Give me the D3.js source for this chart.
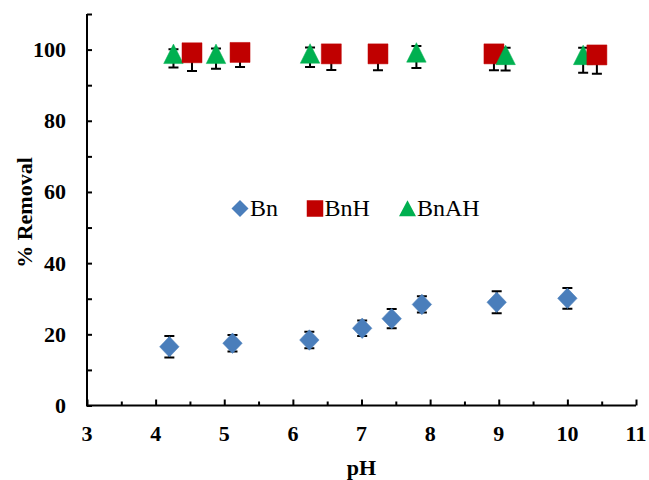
<!DOCTYPE html>
<html>
<head>
<meta charset="utf-8">
<script src="https://cdn.jsdelivr.net/npm/d3@7"></script>
<style>
  html, body { margin: 0; padding: 0; background: #fff; }
  svg { display: block; }
</style>
</head>
<body>
<svg id="chart" width="649" height="480"></svg>
<script>
// ---- data ----
const seriesNames = ["Bn", "BnH", "BnAH"];

const bnPH = [4.2, 5.12, 6.24, 7.01, 7.44, 7.88, 8.97, 10.0];
const bnVal = [16.5, 17.5, 18.4, 21.7, 24.4, 28.4, 29.0, 30.1];
const bnErrPlus = [3.0, 2.3, 2.3, 2.2, 2.7, 2.3, 3.1, 2.9];
const bnErrMinus = [3.0, 2.3, 2.3, 2.2, 2.7, 2.3, 3.1, 2.9];

const bnhPH = [4.53, 5.23, 6.56, 7.24, 8.93, 10.43];
const bnhVal = [99.1, 99.2, 98.8, 98.8, 98.8, 98.5];
const bnhErrPlus = [0.9, 0.8, 1.2, 1.2, 1.2, 1.5];
const bnhErrMinus = [5.1, 4.1, 4.5, 4.6, 4.6, 5.3];

const bnahPH = [4.26, 4.88, 6.25, 7.8, 9.1, 10.23];
const bnahVal = [97.9, 97.9, 98.0, 98.3, 97.6, 97.6];
const bnahErrPlus = [2.2, 2.4, 2.6, 2.7, 2.9, 2.9];
const bnahErrMinus = [2.9, 3.3, 2.9, 3.5, 3.5, 4.1];

const xTicks = [3, 4, 5, 6, 7, 8, 9, 10, 11];
const yTicks = [0, 20, 40, 60, 80, 100];
const xLabel = "pH";
const yLabel = "% Removal";

// ---- layout ----
const svg = d3.select("#chart");
const pLeft = 87, pRight = 636, pTop = 14, pBottom = 405.5;
const x = d3.scaleLinear().domain([3, 11]).range([pLeft, pRight]);
const y = d3.scaleLinear().domain([0, 110]).range([pBottom, pTop]);

const colors = { Bn: "#4A7EBB", BnH: "#C00000", BnAH: "#00B050" };
const font = "'Liberation Serif', 'Times New Roman', serif";

// custom symbols
const diamondSym = (w, h) => ({ draw(ctx) {
  ctx.moveTo(0, -h / 2); ctx.lineTo(w / 2, 0); ctx.lineTo(0, h / 2); ctx.lineTo(-w / 2, 0); ctx.closePath();
}});
const squareSym = (s) => ({ draw(ctx) {
  ctx.moveTo(-s / 2, -s / 2); ctx.lineTo(s / 2, -s / 2); ctx.lineTo(s / 2, s / 2); ctx.lineTo(-s / 2, s / 2); ctx.closePath();
}});
const triSym = (w, h) => ({ draw(ctx) {
  ctx.moveTo(0, -2 * h / 3); ctx.lineTo(w / 2, h / 3); ctx.lineTo(-w / 2, h / 3); ctx.closePath();
}});

const symbols = {
  Bn: d3.symbol().type(diamondSym(19.5, 20.5)).size(1),
  BnH: d3.symbol().type(squareSym(20)).size(1),
  BnAH: d3.symbol().type(triSym(19.5, 19.5)).size(1)
};
const legendSymbols = {
  Bn: d3.symbol().type(diamondSym(17, 17)).size(1),
  BnH: d3.symbol().type(squareSym(16.5)).size(1),
  BnAH: d3.symbol().type(triSym(17, 16)).size(1)
};

const build = (name, px, v, ep, em) => px.map((p, i) => ({ name, ph: p, v: v[i], ep: ep[i], em: em[i] }));
const points = [].concat(
  build("Bn", bnPH, bnVal, bnErrPlus, bnErrMinus),
  build("BnH", bnhPH, bnhVal, bnhErrPlus, bnhErrMinus),
  build("BnAH", bnahPH, bnahVal, bnahErrPlus, bnahErrMinus)
);

// ---- axes ----
const yAxis = d3.axisRight(y).tickValues(d3.range(0, 111, 10)).tickSize(5).tickFormat("");
const gy = svg.append("g").attr("transform", `translate(${pLeft},0)`).call(yAxis);
gy.select(".domain").attr("d", `M0,${pTop}V${pBottom}`);

const xAxisMinor = d3.axisTop(x).tickValues(d3.range(3.5, 11, 1)).tickSize(4).tickFormat("");
const xAxisMajor = d3.axisTop(x).tickValues(xTicks).tickSize(6).tickFormat("");
const gxm = svg.append("g").attr("transform", `translate(0,${pBottom})`).call(xAxisMinor);
const gx = svg.append("g").attr("transform", `translate(0,${pBottom})`).call(xAxisMajor);
gxm.select(".domain").remove();
gx.select(".domain").attr("d", `M${pLeft - 1},0H${pRight}`);
svg.selectAll(".domain").attr("stroke", "#000").attr("stroke-width", 2);
svg.selectAll(".tick line").attr("stroke", "#000").attr("stroke-width", 2);

// tick labels
svg.append("g").selectAll("text").data(yTicks).join("text")
  .attr("x", 66).attr("y", d => y(d) + 7.5)
  .attr("text-anchor", "end")
  .attr("font-family", font).attr("font-weight", "bold").attr("font-size", 22)
  .text(d => d);
svg.append("g").selectAll("text").data(xTicks).join("text")
  .attr("x", d => x(d)).attr("y", 441)
  .attr("text-anchor", "middle")
  .attr("font-family", font).attr("font-weight", "bold").attr("font-size", 22)
  .text(d => d);

// axis titles
svg.append("text").attr("x", (pLeft + pRight) / 2).attr("y", 475)
  .attr("text-anchor", "middle").attr("font-family", font).attr("font-weight", "bold").attr("font-size", 22)
  .text(xLabel);
svg.append("text").attr("transform", `translate(32,212.5) rotate(-90)`)
  .attr("text-anchor", "middle").attr("font-family", font).attr("font-weight", "bold").attr("font-size", 22)
  .text(yLabel);

// ---- error bars ----
const cap = 5;
const eb = svg.append("g").attr("stroke", "#000").attr("stroke-width", 2).attr("fill", "none");
eb.selectAll("path").data(points).join("path")
  .attr("d", d => {
    const cx = x(d.ph), y1 = y(d.v + d.ep), y2 = y(d.v - d.em);
    return `M${cx},${y1}V${y2}M${cx - cap},${y1}H${cx + cap}M${cx - cap},${y2}H${cx + cap}`;
  });

// ---- markers ----
const sorted = points.slice().sort((a, b) => a.ph - b.ph);
svg.append("g").selectAll("path").data(sorted).join("path")
  .attr("transform", d => `translate(${x(d.ph)},${y(d.v)})`)
  .attr("d", d => symbols[d.name]())
  .attr("fill", d => colors[d.name])
  .attr("stroke", d => colors[d.name]).attr("stroke-width", 0.5).attr("stroke-linejoin", "round");

// ---- legend ----
const legendX = [240, 315, 407.5];
const legendTextX = [250, 324.5, 417];
const lg = svg.append("g");
seriesNames.forEach((n, i) => {
  lg.append("path").attr("transform", `translate(${legendX[i]},${n === "BnAH" ? 211 : 208.5})`)
    .attr("d", legendSymbols[n]()).attr("fill", colors[n]);
  lg.append("text").attr("x", legendTextX[i]).attr("y", 216)
    .attr("font-family", font).attr("font-size", 24).attr("fill", "#000")
    .text(n);
});
</script>
</body>
</html>
